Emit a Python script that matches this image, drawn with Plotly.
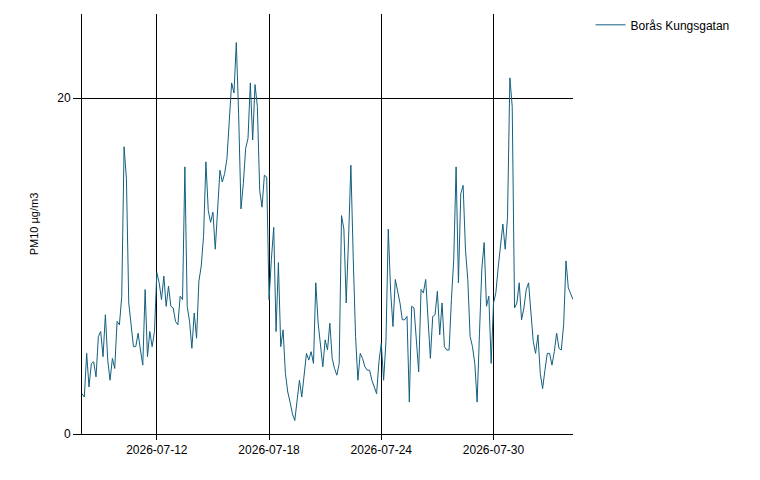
import pandas as pd
import plotly.graph_objects as go

# PM10 readings, one value every 3 hours from the start time
station = "Borås Kungsgatan"
start_time = "2026-07-08 00:00"
step = "3h"
pm10 = [
    2.4, 2.2, 4.8, 2.8, 4.2, 4.3, 3.4, 5.8, 6.1, 4.6,
    7.1, 4.4, 3.2, 4.5, 3.9, 6.7, 6.5, 8.2, 17.1, 15.2,
    7.8, 6.6, 5.2, 5.2, 6.0, 5.0, 4.1, 8.6, 4.6, 6.1,
    5.2, 6.1, 9.6, 9.0, 8.0, 9.4, 7.6, 8.8, 7.6, 7.5,
    6.7, 6.5, 8.2, 8.0, 15.9, 7.6, 6.7, 5.1, 7.2, 5.7,
    9.1, 10.0, 11.8, 16.2, 13.3, 12.6, 13.2, 11.0, 13.6, 15.7,
    15.0, 15.5, 16.4, 18.9, 20.9, 20.3, 23.3, 19.0, 13.4, 14.9,
    17.0, 17.6, 20.9, 17.5, 20.8, 19.5, 14.5, 13.5, 15.4, 15.3,
    8.0, 10.4, 12.3, 6.1, 10.2, 5.2, 6.2, 3.6, 2.5, 1.9,
    1.2, 0.8, 2.0, 3.2, 2.2, 3.4, 4.8, 4.4, 4.9, 4.2,
    9.0, 6.6, 5.1, 4.0, 5.6, 5.0, 6.6, 4.5, 3.9, 3.5,
    4.2, 13.0, 12.2, 7.8, 11.6, 16.0, 10.5, 5.8, 3.2, 4.8,
    4.5, 4.0, 3.8, 3.8, 3.2, 2.8, 2.4, 4.3, 5.4, 3.2,
    5.5, 12.2, 8.5, 6.4, 9.2, 8.5, 7.8, 6.8, 6.8, 7.0,
    1.9, 7.6, 7.5, 5.6, 3.7, 8.6, 8.4, 9.2, 6.5, 4.5,
    7.0, 7.1, 8.5, 5.9, 7.8, 5.2, 5.0, 5.0, 8.0, 10.4,
    15.9, 9.0, 14.3, 14.8, 11.0, 9.2, 5.8, 5.2, 4.2, 1.9,
    6.0, 9.8, 11.4, 7.6, 8.2, 4.2, 7.8, 8.4, 9.9, 11.1,
    12.5, 11.0, 12.9, 21.2, 19.5, 7.5, 7.8, 9.0, 6.8, 7.5,
    8.6, 9.0, 7.4, 5.5, 4.8, 5.9, 3.6, 2.7, 3.8, 4.8,
    4.8, 4.1, 4.9, 6.0, 5.1, 5.0, 6.5, 10.3, 8.7, 8.4,
    8.0,
]

times = pd.date_range(start=start_time, periods=len(pm10), freq=step)

first_tick = "2026-07-12"
tick_days = 6
y_max = 25

fig = go.Figure()

fig.add_trace(go.Scatter(
    x=times,
    y=pm10,
    mode="lines",
    name=station,
    line=dict(color="#135f7f", width=1),
    showlegend=True,
))

# the page has an 8px body margin, so the figure is a bit smaller than the window
fig.update_layout(
    width=744,
    height=464,
    margin=dict(l=74, r=179, t=6, b=38, autoexpand=False),
    paper_bgcolor="white",
    plot_bgcolor="white",
    font=dict(family="Liberation Sans, Arial, sans-serif", size=12, color="#000"),
    showlegend=True,
    legend=dict(
        xref="container", yref="container",
        x=0.783, y=0.995,
        xanchor="left", yanchor="top",
        font=dict(size=12, color="#000"),
        bgcolor="rgba(0,0,0,0)",
    ),
    xaxis=dict(
        type="date",
        range=[times[0], times[-1]],
        tick0=first_tick,
        dtick=tick_days * 86400000,
        tickformat="%Y-%m-%d",
        showgrid=True,
        gridcolor="#000",
        gridwidth=1,
        showline=True,
        linecolor="#000",
        linewidth=1,
        ticks="outside",
        ticklen=5,
        tickcolor="#000",
        zeroline=False,
    ),
    yaxis=dict(
        range=[0, y_max],
        tick0=0,
        dtick=20,
        showgrid=True,
        gridcolor="#000",
        gridwidth=1,
        showline=True,
        linecolor="#000",
        linewidth=1,
        ticks="outside",
        ticklen=8,
        tickcolor="#000",
        zeroline=False,
        title=dict(text="PM10 µg/m3", font=dict(size=11), standoff=16),
    ),
)

fig.write_html("out.html")
